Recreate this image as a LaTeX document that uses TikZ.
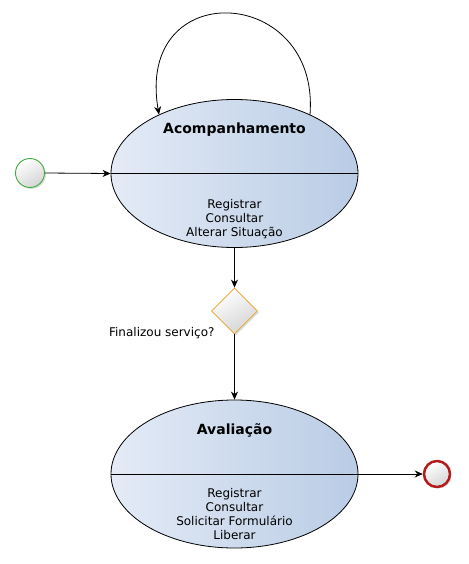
\documentclass[tikz,border=0pt]{standalone}
\usepackage{fontspec}
\setmainfont{DejaVu Sans}
\usepackage{tikz}
\usetikzlibrary{arrows.meta,shapes.geometric,shadows}
\definecolor{stateink}{HTML}{000000}
\definecolor{stateleft}{HTML}{E4EBF6}
\definecolor{stateright}{HTML}{B9CCE5}
\definecolor{startink}{HTML}{3BB03B}
\definecolor{endink}{HTML}{B31B1B}
\definecolor{choiceink}{HTML}{E8A020}
\definecolor{pseudofill}{HTML}{D4D4D4}

\begin{document}
\begin{tikzpicture}[
  x=1pt,y=-1pt,
  line join=round,
  arr/.style={
    -{Stealth[length=8pt,width=7pt,inset=2.5pt]},
    line width=0.8pt
  },
  state/.style={
    ellipse,
    draw=stateink,
    line width=0.8pt,
    left color=stateleft,
    right color=stateright,
    minimum width=247pt,
    minimum height=148pt,
    inner sep=0pt
  },
  pseudo/.style={
    circle,
    shading=axis,
    top color=white,
    bottom color=pseudofill,
    shading angle=30,
    minimum size=29pt,
    inner sep=0pt,
    drop shadow={opacity=.25,shadow xshift=1.5pt,shadow yshift=-1.5pt}
  },
  title/.style={font=\fontsize{14}{16}\selectfont\bfseries},
  ops/.style={font=\fontsize{12}{14}\selectfont,align=center}
]
\useasboundingbox (0,0) rectangle (468,564);

% ------------------------------------------------------------
% States
% ------------------------------------------------------------

\node[state] (acomp) at (234.5,173.5) {};
\draw[line width=0.8pt] (acomp.west) -- (acomp.east);
\node[title] (acomptitle) at (234.5,130) {Acompanhamento};
\node[ops] (acompops) at (234.5,219)
  {Registrar\\Consultar\\Alterar Situação};

\node[state] (aval) at (234.5,474) {};
\draw[line width=0.8pt] (aval.west) -- (aval.east);
\node[title] (avaltitle) at (234.5,430) {Avaliação};
\node[ops] (avalops) at (234.5,514)
  {Registrar\\Consultar\\Solicitar Formulário\\Liberar};

% ------------------------------------------------------------
% Start, end and choice
% ------------------------------------------------------------

\node[pseudo,draw=startink,line width=0.9pt] (start) at (30,173) {};
\node[pseudo,draw=endink,line width=2.5pt,minimum size=26pt] (stop) at (437,474) {};

\node[
  diamond,
  aspect=1,
  draw=choiceink,
  line width=0.8pt,
  shading=axis,
  top color=white,
  bottom color=pseudofill,
  shading angle=30,
  minimum width=46pt,
  minimum height=46pt,
  inner sep=0pt,
  drop shadow={opacity=.25,shadow xshift=1.5pt,shadow yshift=-1.5pt}
] (choice) at (234.5,311) {};

\node[font=\fontsize{12}{14}\selectfont,anchor=east] (choicelabel) at (218,333)
  {Finalizou serviço?};

% ------------------------------------------------------------
% Transitions
% ------------------------------------------------------------

\draw[arr] (start.east) -- (acomp.west);
\draw[arr] (acomp.south) -- (choice.north);
\draw[arr] (choice.south) -- (aval.north);
\draw[arr] (aval.east) -- (stop.west);

\draw[arr]
  (acomp.38)
  .. controls (320,-15) and (135,-25) ..
  (acomp.142);
\end{tikzpicture}
\end{document}
